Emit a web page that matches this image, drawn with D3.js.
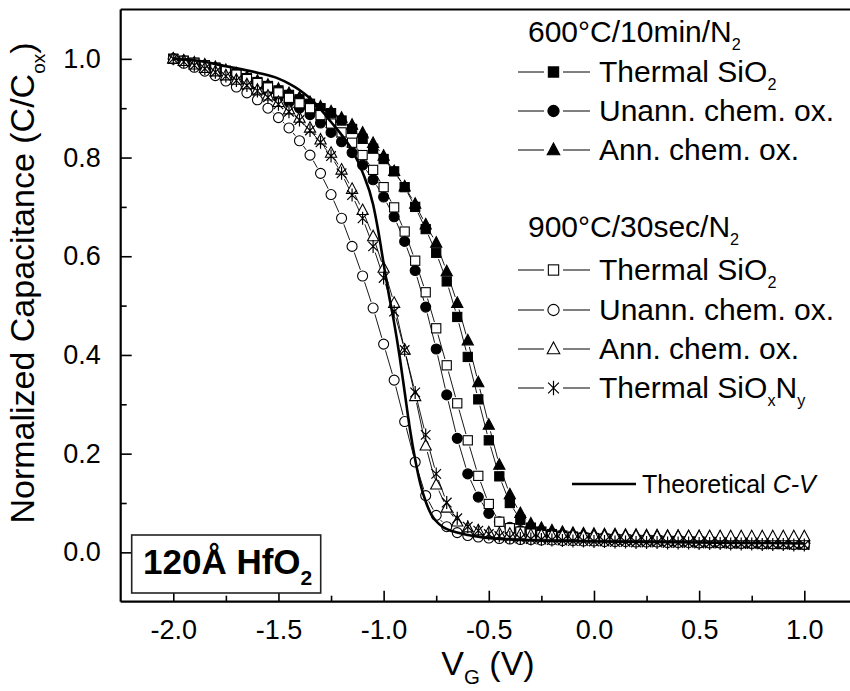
<!DOCTYPE html>
<html><head><meta charset="utf-8">
<script src="https://cdn.jsdelivr.net/npm/d3@7"></script>
<style>body{margin:0;background:#fff;} svg{display:block;font-family:"Liberation Sans",Arial,Helvetica,sans-serif;}</style>
</head><body><svg id="c" width="850" height="691"></svg>
<script>
// ---------- DATA ----------
const vg = [-2.00,-1.95,-1.90,-1.85,-1.80,-1.75,-1.70,-1.65,-1.60,-1.55,-1.50,-1.45,-1.40,-1.35,-1.30,-1.25,-1.20,-1.15,-1.10,-1.05,
  -1.00,-0.95,-0.90,-0.85,-0.80,-0.75,-0.70,-0.65,-0.60,-0.55,-0.50,-0.45,-0.40,-0.35,-0.30,-0.25,-0.20,-0.15,-0.10,-0.05,
  0.00,0.05,0.10,0.15,0.20,0.25,0.30,0.35,0.40,0.45,0.50,0.55,0.60,0.65,0.70,0.75,0.80,0.85,0.90,0.95,1.00];

const thermal600 = [1.000,0.996,0.992,0.987,0.982,0.976,0.969,0.961,0.953,0.945,
 0.936,0.927,0.918,0.909,0.900,0.890,0.875,0.858,0.838,0.818,
 0.797,0.772,0.740,0.700,0.655,0.607,0.549,0.477,0.396,0.310,
 0.227,0.154,0.100,0.066,0.050,0.042,0.037,0.034,0.032,0.030,
 0.029,0.028,0.027,0.026,0.025,0.025,0.024,0.023,0.023,0.022,
 0.022,0.021,0.021,0.020,0.020,0.019,0.019,0.018,0.018,0.017,0.017];
const unann600 = [1.000,0.996,0.991,0.986,0.980,0.973,0.965,0.956,0.946,0.935,
 0.924,0.912,0.900,0.887,0.870,0.851,0.832,0.810,0.785,0.755,
 0.720,0.680,0.630,0.571,0.497,0.412,0.319,0.231,0.159,0.112,
 0.079,0.062,0.051,0.044,0.040,0.037,0.035,0.033,0.031,0.030,
 0.029,0.028,0.027,0.026,0.026,0.025,0.024,0.024,0.023,0.022,
 0.022,0.021,0.021,0.020,0.020,0.019,0.019,0.018,0.018,0.017,0.017];
const ann600 = [1.000,0.996,0.992,0.988,0.983,0.977,0.970,0.963,0.955,0.947,
 0.939,0.930,0.921,0.912,0.903,0.893,0.880,0.866,0.850,0.829,
 0.803,0.772,0.741,0.706,0.664,0.627,0.569,0.505,0.429,0.344,
 0.258,0.177,0.117,0.079,0.058,0.049,0.044,0.041,0.039,0.038,
 0.037,0.036,0.036,0.035,0.035,0.034,0.034,0.033,0.033,0.032,
 0.032,0.031,0.031,0.030,0.030,0.029,0.029,0.028,0.028,0.027,0.027];
const thermal900 = [1.000,0.996,0.992,0.987,0.982,0.975,0.968,0.959,0.951,0.942,
 0.932,0.921,0.910,0.900,0.886,0.869,0.851,0.830,0.805,0.775,
 0.740,0.699,0.650,0.591,0.527,0.454,0.379,0.302,0.227,0.155,
 0.098,0.062,0.049,0.042,0.038,0.035,0.033,0.031,0.030,0.029,
 0.028,0.027,0.026,0.026,0.025,0.024,0.024,0.023,0.022,0.022,
 0.021,0.021,0.020,0.020,0.019,0.019,0.018,0.018,0.017,0.017,0.016];
const unann900 = [1.000,0.991,0.983,0.975,0.966,0.955,0.943,0.931,0.917,0.900,
 0.881,0.860,0.834,0.805,0.768,0.725,0.677,0.620,0.560,0.495,
 0.422,0.349,0.265,0.183,0.115,0.075,0.052,0.040,0.034,0.031,
 0.029,0.028,0.027,0.026,0.026,0.025,0.025,0.024,0.024,0.023,
 0.023,0.022,0.022,0.022,0.021,0.021,0.021,0.020,0.020,0.020,
 0.019,0.019,0.019,0.018,0.018,0.018,0.017,0.017,0.017,0.016,0.016];
const ann900 = [1.000,0.995,0.988,0.981,0.974,0.966,0.957,0.948,0.937,0.925,
 0.912,0.897,0.880,0.860,0.836,0.809,0.775,0.736,0.693,0.640,
 0.576,0.505,0.410,0.316,0.216,0.137,0.090,0.062,0.050,0.044,
 0.040,0.038,0.037,0.036,0.035,0.035,0.034,0.034,0.034,0.033,
 0.033,0.033,0.033,0.033,0.033,0.032,0.032,0.032,0.032,0.032,
 0.032,0.032,0.032,0.032,0.032,0.032,0.032,0.032,0.032,0.032,0.032];
const oxynitride900 = [1.000,0.994,0.987,0.980,0.973,0.965,0.956,0.946,0.935,0.922,
 0.908,0.893,0.876,0.855,0.831,0.803,0.768,0.724,0.677,0.620,
 0.556,0.488,0.410,0.324,0.238,0.159,0.101,0.069,0.052,0.044,
 0.037,0.033,0.030,0.028,0.027,0.026,0.025,0.024,0.023,0.023,
 0.022,0.022,0.021,0.021,0.020,0.020,0.020,0.019,0.019,0.019,
 0.018,0.018,0.018,0.017,0.017,0.017,0.016,0.016,0.016,0.015,0.015];

const theoryV = [-2.00,-1.90,-1.75,-1.60,-1.50,-1.45,-1.40,-1.35,-1.30,-1.25,-1.20,-1.15,-1.10,-1.05,-1.025,-1.00,
  -0.975,-0.95,-0.925,-0.90,-0.875,-0.85,-0.825,-0.80,-0.775,-0.75,-0.72,-0.65,-0.60,-0.45,0.00,1.00];
const theoryC = [1.000,0.997,0.985,0.972,0.960,0.950,0.937,0.920,0.898,0.872,0.846,0.815,0.770,0.705,0.650,0.585,
  0.522,0.465,0.400,0.325,0.250,0.188,0.138,0.103,0.078,0.063,0.052,0.040,0.035,0.027,0.022,0.018];

const xTicks = [-2.0,-1.5,-1.0,-0.5,0.0,0.5,1.0];
const xMinor = [-1.75,-1.25,-0.75,-0.25,0.25,0.75];
const yTicks = [0.0,0.2,0.4,0.6,0.8,1.0];
const yMinor = [0.1,0.3,0.5,0.7,0.9];

const series = [
  {values: thermal600,    sym: "square",   fill: "#000"},
  {values: unann600,      sym: "circle",   fill: "#000"},
  {values: ann600,        sym: "triangle", fill: "#000"},
  {values: thermal900,    sym: "square",   fill: "#fff"},
  {values: unann900,      sym: "circle",   fill: "#fff"},
  {values: ann900,        sym: "triangle", fill: "#fff"},
  {values: oxynitride900, sym: "star",     fill: "none"}
];

// ---------- CHART ----------
const svg = d3.select("#c");
svg.append("rect").attr("width",850).attr("height",691).attr("fill","#fff");
const x = d3.scaleLinear().domain([-2.25,1.25]).range([120.7,856.9]);
const y = d3.scaleLinear().domain([-0.1,1.1]).range([601.7,9.5]);
const fmt = d => d.toFixed(1);

const gx = svg.append("g").attr("transform",`translate(0,${y(-0.1)})`)
  .call(d3.axisBottom(x).tickValues(xTicks).tickFormat(fmt).tickSize(-11).tickPadding(18));
const gxm = svg.append("g").attr("transform",`translate(0,${y(-0.1)})`)
  .call(d3.axisBottom(x).tickValues(xMinor).tickFormat("").tickSize(-6));
const gy = svg.append("g").attr("transform",`translate(${x(-2.25)},0)`)
  .call(d3.axisLeft(y).tickValues(yTicks).tickFormat(fmt).tickSize(-11).tickPadding(20));
const gym = svg.append("g").attr("transform",`translate(${x(-2.25)},0)`)
  .call(d3.axisLeft(y).tickValues(yMinor).tickFormat("").tickSize(-6));
[gx,gxm,gy,gym].forEach(g=>{
  g.select(".domain").remove();
  g.selectAll(".tick line").attr("stroke","#000").attr("stroke-width",1.6);
  g.selectAll("text").attr("fill","#000").attr("font-size",27).attr("font-family",'"Liberation Sans",Arial,sans-serif');
});

const frame = svg.append("g").attr("stroke","#000").attr("stroke-width",2.2).attr("fill","none");
frame.append("line").attr("x1",x(-2.25)).attr("x2",x(-2.25)).attr("y1",y(1.1)).attr("y2",y(-0.1));
frame.append("line").attr("x1",x(-2.25)).attr("x2",x(1.25)).attr("y1",y(-0.1)).attr("y2",y(-0.1));
frame.append("line").attr("x1",x(-2.25)).attr("x2",x(1.25)).attr("y1",y(1.1)).attr("y2",y(1.1));

function drawSym(g, sym, cx, cy, fill, s) {
  s = s || 1;
  if (sym === "square") {
    g.append("rect").attr("x",cx-4.6*s).attr("y",cy-4.6*s).attr("width",9.2*s).attr("height",9.2*s)
      .attr("fill",fill).attr("stroke","#000").attr("stroke-width",1.1);
  } else if (sym === "circle") {
    g.append("circle").attr("cx",cx).attr("cy",cy).attr("r",5*s)
      .attr("fill",fill).attr("stroke","#000").attr("stroke-width",1.1);
  } else if (sym === "triangle") {
    g.append("path").attr("d",`M${cx},${cy-6.3*s}L${cx+5.6*s},${cy+4.2*s}L${cx-5.6*s},${cy+4.2*s}Z`)
      .attr("fill",fill).attr("stroke","#000").attr("stroke-width",1.1);
  } else {
    const r = 6.5*s, d = 4.8*s;
    g.append("path").attr("d",`M${cx},${cy-r}V${cy+r}M${cx-d},${cy-d}L${cx+d},${cy+d}M${cx-d},${cy+d}L${cx+d},${cy-d}`)
      .attr("fill","none").attr("stroke","#000").attr("stroke-width",1.2);
  }
}

function gappedSegments(pts, gap) {
  const segs = [];
  for (let i=0;i<pts.length-1;i++){
    const [x1,y1]=pts[i],[x2,y2]=pts[i+1];
    const L = Math.hypot(x2-x1,y2-y1);
    if (L <= 2*gap+0.5) continue;
    const ux=(x2-x1)/L, uy=(y2-y1)/L;
    segs.push([x1+ux*gap,y1+uy*gap,x2-ux*gap,y2-uy*gap]);
  }
  return segs;
}

const lineG = svg.append("g");
series.forEach(s=>{
  const pts = vg.map((v,i)=>[x(v), y(s.values[i])]);
  lineG.selectAll(null).data(gappedSegments(pts,6.5)).enter().append("line")
    .attr("x1",d=>d[0]).attr("y1",d=>d[1]).attr("x2",d=>d[2]).attr("y2",d=>d[3])
    .attr("stroke","#000").attr("stroke-width",0.9);
});

const markG = svg.append("g");
series.forEach(s=>{
  vg.forEach((v,i)=> drawSym(markG, s.sym, x(v), y(s.values[i]), s.fill));
});

svg.append("path")
  .datum(theoryV.map((v,i)=>[v,theoryC[i]]))
  .attr("fill","none").attr("stroke","#000").attr("stroke-width",2.6)
  .attr("d", d3.line().x(d=>x(d[0])).y(d=>y(d[1])).curve(d3.curveMonotoneX));

// ---------- LEGEND ----------
const FS = 30;
function richText(g, parts, xx, yy, size, weight, subScale, subShift) {
  subScale = subScale || 0.56; subShift = subShift || 0.33;
  const t = g.append("text").attr("x",xx).attr("y",yy).attr("font-size",size).attr("fill","#000");
  if (weight) t.attr("font-weight",weight);
  let shifted = false;
  parts.forEach(p=>{
    const ts = t.append("tspan").text(p.t);
    if (p.sub) { ts.attr("font-size",size*subScale).attr("dy", shifted? 0 : size*subShift); shifted = true; }
    else { if (shifted) { ts.attr("dy", -size*subShift); shifted=false; } }
    if (p.it) ts.attr("font-style","italic");
  });
  return t;
}
const leg = svg.append("g");
const legHeaders = [
  {parts:[{t:"600°C/10min/N"},{t:"2",sub:true}], y:42},
  {parts:[{t:"900°C/30sec/N"},{t:"2",sub:true}], y:237}
];
legHeaders.forEach(h=>richText(leg,h.parts,528,h.y,FS,null,0.54,0.27));

const legItems = [
  {parts:[{t:"Thermal SiO"},{t:"2",sub:true}], y:82},
  {parts:[{t:"Unann. chem. ox."}], y:121},
  {parts:[{t:"Ann. chem. ox."}], y:160},
  {parts:[{t:"Thermal SiO"},{t:"2",sub:true}], y:280},
  {parts:[{t:"Unann. chem. ox."}], y:320},
  {parts:[{t:"Ann. chem. ox."}], y:359},
  {parts:[{t:"Thermal SiO"},{t:"x",sub:true},{t:"N"},{t:"y",sub:true}], y:398}
];
legItems.forEach((it,i)=>{
  const cy = it.y - 10;
  leg.append("line").attr("x1",518).attr("x2",544).attr("y1",cy).attr("y2",cy).attr("stroke","#000").attr("stroke-width",1);
  leg.append("line").attr("x1",563).attr("x2",590).attr("y1",cy).attr("y2",cy).attr("stroke","#000").attr("stroke-width",1);
  drawSym(leg, series[i].sym, 553.5, cy, series[i].fill, 1.12);
  richText(leg, it.parts, 599, it.y, FS, null, 0.54, 0.27);
});
leg.append("line").attr("x1",572).attr("x2",636).attr("y1",484).attr("y2",484).attr("stroke","#000").attr("stroke-width",2.6);
richText(leg,[{t:"Theoretical "},{t:"C-V",it:true}],642,493,25);

// ---------- TITLES ----------
const yt = svg.append("g").attr("transform","translate(34,283) rotate(-90)");
const ytt = richText(yt,[{t:"Normalized Capacitance (C/C"},{t:"ox",sub:true},{t:")"}],0,0,34);
ytt.attr("text-anchor","middle");
const xtt = richText(svg,[{t:"V"},{t:"G",sub:true},{t:" (V)"}],488,675,34,null,0.6,0.25);
xtt.attr("text-anchor","middle");

svg.append("rect").attr("x",131.7).attr("y",535).attr("width",189).attr("height",58)
  .attr("fill","#fff").attr("stroke","#222").attr("stroke-width",1.6);
richText(svg,[{t:"120Å HfO"},{t:"2",sub:true}],143,574,35,"bold",0.6,0.3);
</script></body></html>
